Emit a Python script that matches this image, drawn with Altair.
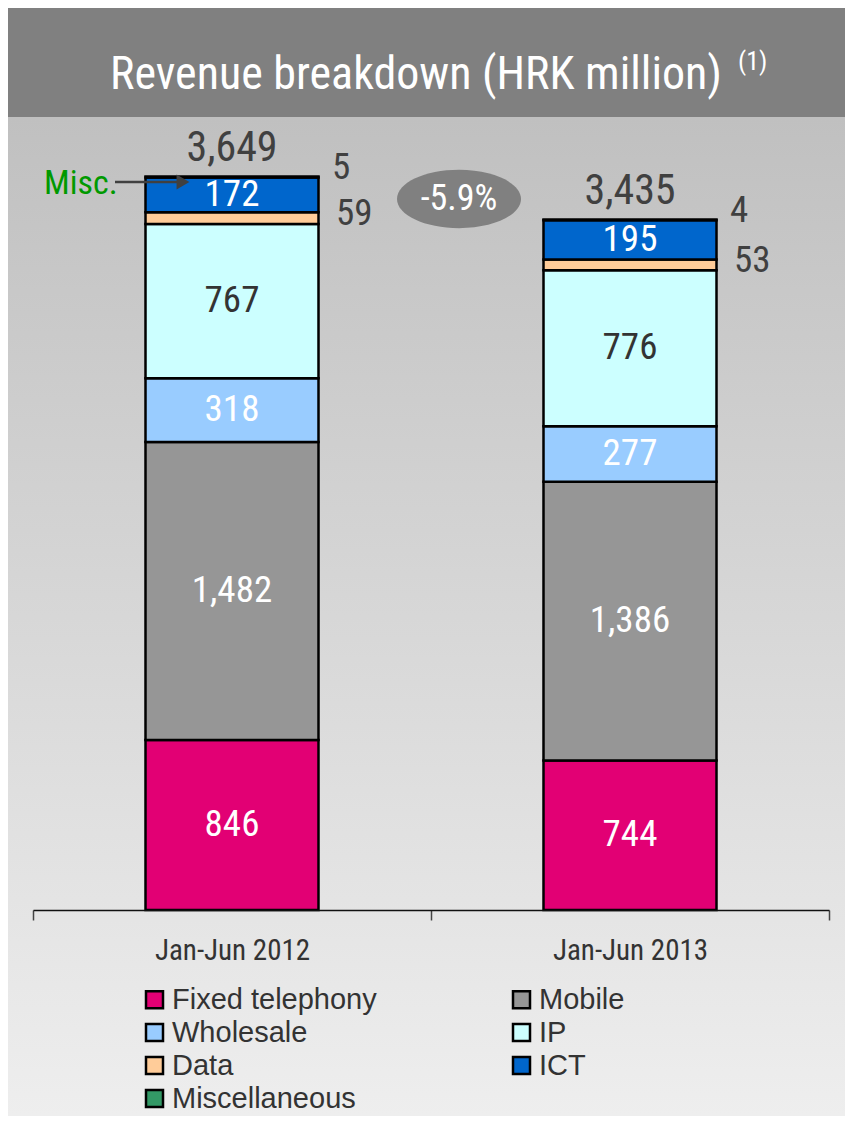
import altair as alt
import pandas as pd

periods = ["Jan-Jun 2012", "Jan-Jun 2013"]
segments = ["Fixed telephony", "Mobile", "Wholesale", "IP", "Data", "ICT", "Miscellaneous"]
values_2012 = [846, 1482, 318, 767, 59, 172, 5]
values_2013 = [744, 1386, 277, 776, 53, 195, 4]
seg_colors = ["#E20074", "#969696", "#99CCFF", "#CCFFFF", "#FFCC99", "#0066CC", "#339966"]
# legend reading order (laid out column by column in two columns)
legend_order = ["Fixed telephony", "Wholesale", "Data", "Miscellaneous", "Mobile", "IP", "ICT"]
change_label = "-5.9%"

COND = "Liberation Sans Narrow, Roboto Condensed, DejaVu Sans Condensed, sans-serif"
REG = "Liberation Sans, Arial, sans-serif"

rows = []
for p, vals in zip(periods, [values_2012, values_2013]):
    cum = 0
    for i, (s, v) in enumerate(zip(segments, vals)):
        rows.append({"period": p, "segment": s, "value": v, "order": i,
                     "start": cum, "end": cum + v, "mid": cum + v / 2,
                     "label": f"{v:,}"})
        cum += v
df = pd.DataFrame(rows)
tot = df.groupby("period", as_index=False)["value"].sum()
tot["label"] = tot["value"].map(lambda v: f"{v:,}")

color_of = dict(zip(segments, seg_colors))
legend_colors = [color_of[s] for s in legend_order]

W, H = 796, 804
PL, PT = 25, 98
TOTAL_W, TOTAL_H = 837, 1108
PR = TOTAL_W - PL - W
PB = TOTAL_H - PT - H

xenc = alt.X("period:N", sort=periods,
             scale=alt.Scale(domain=periods, paddingInner=0, paddingOuter=0),
             axis=alt.Axis(title=None, labelAngle=0, tickBand="extent", tickSize=10,
                           domainColor="#111", tickColor="#444", domainWidth=1.5, tickWidth=1.5,
                           labelFont=COND, labelFontSize=29, labelColor="#333",
                           labelPadding=16, grid=False, zindex=1))
yscale = alt.Scale(domain=[0, 4000])

one = pd.DataFrame({"k": [0]})

grad = alt.Gradient(gradient="linear",
                    stops=[alt.GradientStop(color="#c0c0c0", offset=0),
                           alt.GradientStop(color="#eeeeee", offset=1)],
                    x1=0, x2=0, y1=0, y2=1)
bg = alt.Chart(one).mark_rect(fill=grad).encode(
    x=alt.value(-PL), x2=alt.value(W + PR), y=alt.value(11), y2=alt.value(TOTAL_H - PT))
banner = alt.Chart(one).mark_rect(fill="#808080").encode(
    x=alt.value(-PL), x2=alt.value(W + PR), y=alt.value(-PT), y2=alt.value(11))
title = alt.Chart(one).mark_text(font=COND, fontSize=46, color="white", align="center",
                                 baseline="middle").encode(
    x=alt.value(383), y=alt.value(-31), text=alt.value("Revenue breakdown (HRK million)"))
sup = alt.Chart(one).mark_text(font=COND, fontSize=26, color="white", align="left",
                               baseline="middle").encode(
    x=alt.value(705), y=alt.value(-44), text=alt.value("(1)"))

bars = alt.Chart(df).mark_bar(stroke="black", strokeWidth=2.5, size=173).encode(
    x=xenc,
    y=alt.Y("start:Q", scale=yscale, axis=None),
    y2="end:Q",
    color=alt.Color("segment:N", sort=legend_order,
                    scale=alt.Scale(domain=legend_order, range=legend_colors),
                    legend=alt.Legend(title=None, orient="none", legendX=107, legendY=879,
                                      padding=0, columns=2, symbolType="square", symbolSize=289,
                                      symbolStrokeColor="black", symbolStrokeWidth=2.5,
                                      labelFont=REG, labelFontSize=29, labelColor="#333",
                                      labelOffset=3, rowPadding=3, columnPadding=130,
                                      labelLimit=400)),
    order="order:Q")

inner = df[df["value"] >= 100]
inner_labels = alt.Chart(inner).mark_text(font=COND, fontSize=37, baseline="middle").encode(
    x=alt.X("period:N", sort=periods),
    y=alt.Y("mid:Q", scale=yscale),
    text="label:N",
    color=alt.condition(alt.datum.segment == "IP", alt.value("#333333"), alt.value("white")))

data_lbl = alt.Chart(df[df["segment"] == "Data"]).mark_text(
    font=COND, fontSize=37, baseline="middle", align="left", dx=104, dy=-4, color="#404040").encode(
    x=alt.X("period:N", sort=periods), y=alt.Y("mid:Q", scale=yscale), text="label:N")
misc_lbl = alt.Chart(df[df["segment"] == "Miscellaneous"]).mark_text(
    font=COND, fontSize=37, baseline="middle", align="left", dx=100, dy=-9, color="#404040").encode(
    x=alt.X("period:N", sort=periods), y=alt.Y("end:Q", scale=yscale), text="label:N")

totals = alt.Chart(tot).mark_text(font=COND, fontSize=42, baseline="middle", dy=-29,
                                  color="#404040").encode(
    x=alt.X("period:N", sort=periods), y=alt.Y("value:Q", scale=yscale), text="label:N")

ellipse = alt.Chart(one).mark_point(
    shape="M-1,0A1,0.47,0,1,0,1,0A1,0.47,0,1,0,-1,0Z", filled=True, fill="#808080",
    opacity=1, strokeWidth=0, size=124 * 124).encode(x=alt.value(426), y=alt.value(93))
change = alt.Chart(one).mark_text(font=COND, fontSize=36, color="white", baseline="middle").encode(
    x=alt.value(426), y=alt.value(93), text=alt.value(change_label))

misc_txt = alt.Chart(one).mark_text(font=COND, fontSize=34, color="#009900", align="left",
                                    baseline="middle").encode(
    x=alt.value(11), y=alt.value(78), text=alt.value("Misc."))
arrow_line = alt.Chart(one).mark_rule(color="#404040", strokeWidth=2.5).encode(
    x=alt.value(82), x2=alt.value(145), y=alt.value(76))
arrow_head = alt.Chart(one).mark_point(shape="triangle-right", filled=True, fill="#404040",
                                       opacity=1, size=220).encode(
    x=alt.value(150), y=alt.value(76))

chart = alt.layer(bg, banner, title, sup, bars, inner_labels, data_lbl, misc_lbl, totals,
                  ellipse, change, misc_txt, arrow_line, arrow_head).properties(
    width=W, height=H,
    autosize=alt.AutoSizeParams(type="none"),
    padding={"left": PL, "top": PT, "right": PR, "bottom": PB},
).configure_view(strokeWidth=0).configure(background="white")

chart.save("out.html", embed_options={"renderer": "svg", "actions": False})
